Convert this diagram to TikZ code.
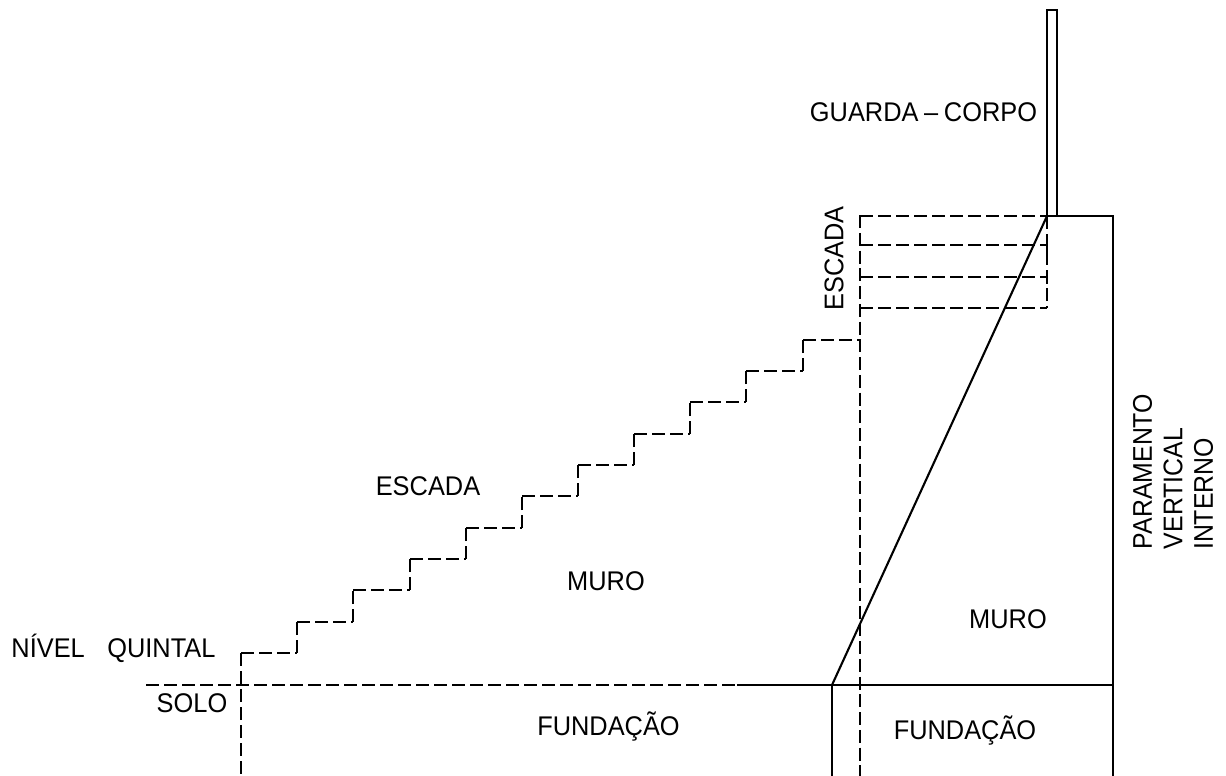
\documentclass[tikz,border=0pt]{standalone}
\usepackage{fontspec}
\setmainfont{Liberation Sans}
\tikzset{
  solidline/.style={line width=2.1pt,line cap=butt,line join=miter,black},
  dashline/.style={line width=1.9pt,line cap=butt,dash pattern=on 13pt off 5pt,black},
  lbl/.style={inner sep=0pt,outer sep=0pt,font=\fontsize{27}{31}\selectfont,xscale=0.94,text=black},
  vlbl/.style={inner sep=0pt,outer sep=0pt,font=\fontsize{27}{31}\selectfont,xscale=0.92,text=black},
}
\begin{document}
\begin{tikzpicture}[x=1pt,y=-1pt]
\useasboundingbox (0,0) rectangle (1226,776);
% key points
\coordinate (railBL) at (1047,216);
\coordinate (railBR) at (1057,216);
\coordinate (railTL) at (1047,10);
\coordinate (railTR) at (1057,10);
\coordinate (wallTR) at (1113,216);
\coordinate (wallBR) at (1113,776);
\coordinate (footTop) at (832,685);
\coordinate (footBot) at (832,776);
\coordinate (groundR) at (1113,685);
\coordinate (groundSolidL) at (737,685);
\coordinate (groundL) at (146,685);
\coordinate (stairX) at (860,215);
\coordinate (stairBot) at (860,776);
\coordinate (firstBot) at (241,776);
% solid lines
\draw[solidline] (railBL) -- (railTL) -- (railTR) -- (railBR);
\draw[solidline] (railBL) -- (wallTR) -- (wallBR);
\draw[solidline,line join=round] (railBL) -- (footTop);
\draw[solidline] (groundSolidL) -- (groundR);
\draw[solidline,line width=1.6pt] (footTop) -- (footBot);
% dashed ground and verticals
\draw[dashline] (groundL) -- (755,685);
\draw[dashline,dash pattern=on 13pt off 4.75pt] (stairX) -- (stairBot);
\draw[dashline] (241,653) -- (firstBot);
% upper landing
\draw[dashline] (860,216) -- (railBL);
\draw[dashline] (1047,216) -- (1047,308);
\foreach \yy in {245,277,308}{
  \draw[dashline] (860,\yy) -- (1047,\yy);
}
\draw[solidline,line width=1.4pt] (1047,239) -- (1047,252) (1047,270) -- (1047,284);
% stairs
\foreach \xa/\xb/\yy/\yb in {241/297/653/622,297/353/622/590,353/410/590/559,410/466/559/528,466/522/528/496,522/578/496/465,578/634/465/434,634/690/434/402,690/746/402/371,746/803/371/340}{
  \draw[dashline] (\xa,\yy) -- (\xb,\yy);
  \draw[dashline] (\xb,\yy) -- (\xb,\yb);
}
\draw[dashline] (803,340) -- (860,340);
% labels
\node[lbl] (guarda) at (923.5,112) {GUARDA\hspace{6pt}–\hspace{6pt}CORPO};
\node[rotate=90,lbl] (escadaV) at (834,258.5) {ESCADA};
\node[lbl] (escadaH) at (428,486) {ESCADA};
\node[lbl] (muroA) at (606,581) {MURO};
\node[lbl] (muroB) at (1008,619) {MURO};
\node[lbl] (nivel) at (113.5,648) {NÍVEL\hspace{24pt}QUINTAL};
\node[lbl] (solo) at (192,703) {SOLO};
\node[lbl] (fundA) at (608.5,727) {FUNDAÇÃO};
\node[lbl] (fundB) at (965,731) {FUNDAÇÃO};
\node[rotate=90,vlbl] (par) at (1142.5,471.5) {PARAMENTO};
\node[rotate=90,vlbl] (ver) at (1173,488.5) {VERTICAL};
\node[rotate=90,vlbl] (int) at (1203.5,494) {INTERNO};
\end{tikzpicture}
\end{document}
